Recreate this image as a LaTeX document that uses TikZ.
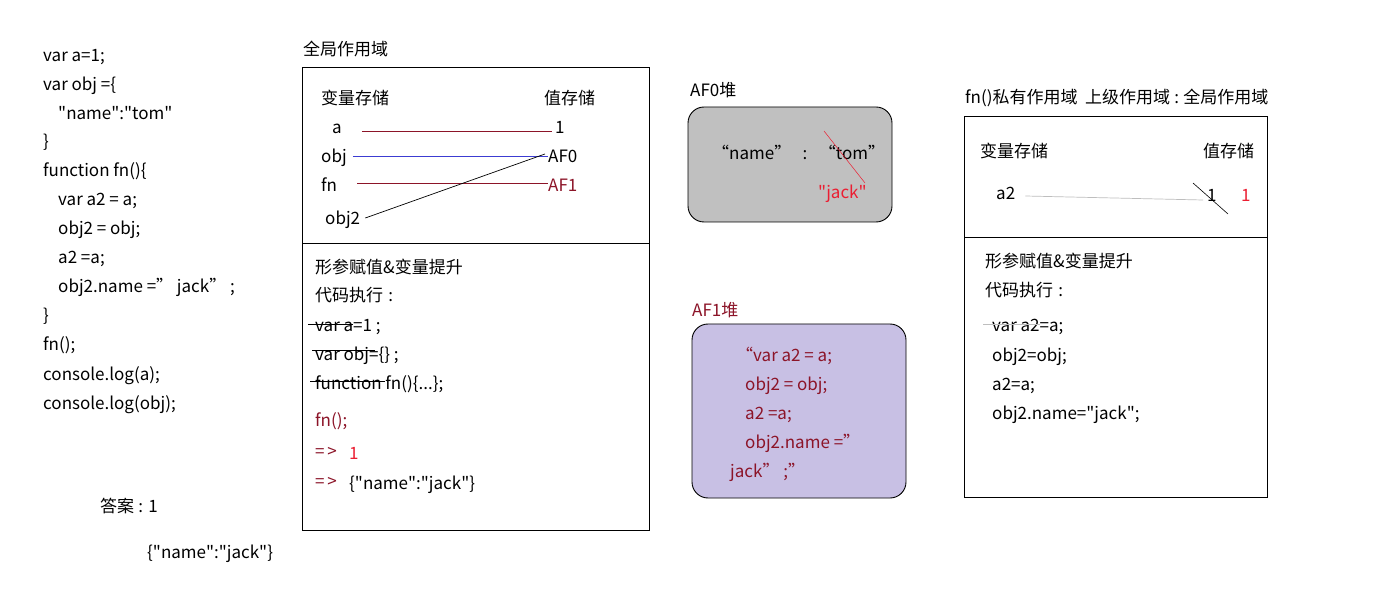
\documentclass[tikz,border=0pt]{standalone}
\usepackage{fontspec}
\setmainfont{Noto Sans CJK SC}[Ligatures=TeXOff]
\definecolor{maroon}{RGB}{140,20,40}
\definecolor{redtxt}{RGB}{235,30,50}
\definecolor{heapgray}{RGB}{192,192,192}
\definecolor{lav}{RGB}{200,192,228}
\definecolor{blueline}{RGB}{60,60,210}
\definecolor{lgray}{RGB}{190,190,190}
\begin{document}
\begin{tikzpicture}[x=1pt,y=-1pt,
  t/.style={anchor=west,inner sep=0pt,yshift=-2pt,font=\fontsize{17}{20}\selectfont,text height=12pt,text depth=4pt},
  frame/.style={draw=black,line width=0.9pt},
  thin/.style={line width=0.7pt}]
\useasboundingbox[fill=white] (0,0) rectangle (1386,601);

% ---- left code ----
\node[t] (c1) at (43,56) {var a=1;};
\node[t] (c2) at (43,85) {var obj =\{};
\node[t] (c3) at (58,114) {"name":"tom"};
\node[t] (c4) at (43,142) {\}};
\node[t] (c5) at (43,171) {function fn()\{};
\node[t] (c6) at (58,200) {var a2 = a;};
\node[t] (c7) at (58,229) {obj2 = obj;};
\node[t] (c8) at (58,258) {a2 =a;};
\node[t] (c9) at (58,287) {obj2.name =”\ jack”\ ;};
\node[t] (c10) at (43,316) {\}};
\node[t] (c11) at (43,345) {fn();};
\node[t] (c12) at (43,374) {console.log(a);};
\node[t] (c13) at (43,403) {console.log(obj);};
\node[t] (ans1) at (100,506) {答案\hspace{0.25em}:\hspace{0.3em}1};
\node[t] (ans2) at (147,552) {\{"name":"jack"\}};

% ---- global scope ----
\node[t] (gtitle) at (303,50) {全局作用域};
\draw[frame] (302,67) rectangle (649,530);
\draw[frame] (302,243) -- (649,243);
\node[t] (gvar) at (321,99) {变量存储};
\node[t] (gval) at (544,99) {值存储};
\node[t] (ga) at (332,128) {a};
\node[t] (g1) at (555,128) {1};
\node[t] (gobj) at (321,157) {obj};
\node[t] (gaf0) at (548,157) {AF0};
\node[t] (gfn) at (321,186) {fn};
\node[t,text=maroon] (gaf1) at (548,186) {AF1};
\node[t] (gobj2) at (325,219) {obj2};
\draw[thin,maroon] ([xshift=20pt,yshift=-1pt]ga.east) -- ([xshift=-3pt,yshift=-1pt]g1.west);
\draw[thin,blueline] ([xshift=6pt,yshift=3pt]gobj.east) -- ([yshift=3pt]gaf0.west);
\draw[thin,maroon] ([xshift=20pt,yshift=5pt]gfn.east) -- ([yshift=5pt]gaf1.west);
\draw[thin,black] ([xshift=5pt,yshift=3pt]gobj2.east) -- ([xshift=-3pt,yshift=5pt]gaf0.west);

\node[t] (gform) at (315,268) {形参赋值\&变量提升};
\node[t] (gexec) at (315,296) {代码执行\hspace{0.3em}:};
\node[t] (gl1) at (315,325) {var a=1 ;};
\node[t] (gl2) at (315,354) {var obj=\{\} ;};
\node[t] (gl3) at (315,383) {function fn()\{...\};};
\draw[thin] ([xshift=-7pt,yshift=3pt]gl1.west) -- ++(45,0);
\draw[thin] ([xshift=-3pt,yshift=6pt]gl2.west) -- ++(63,0);
\draw[thin] ([xshift=-5pt,yshift=4pt]gl3.west) -- ++(75,0);
\node[t,text=maroon] (gfncall) at (315,420) {fn();};
\node[t,text=maroon] (garr1) at (315,451) {=\,>};
\node[t,text=redtxt] (gres1) at (349,453) {1};
\node[t,text=maroon] (garr2) at (315,481) {=\,>};
\node[t] (gres2) at (349,483) {\{"name":"jack"\}};

% ---- AF0 heap ----
\node[t] (h0title) at (690,91) {AF0堆};
\draw[draw=black,line width=0.9pt,fill=heapgray,rounded corners=16pt] (688,107) rectangle (892,222);
\node[t] (h0txt) at (712,154) {“name”\ \ \ :\ \ \ “tom”};
\node[t,text=redtxt] (h0jack) at (818,193) {"jack"};
\coordinate (h0s) at (824,131);
\coordinate (h0e) at (865,183);
\draw[line width=0.5pt,redtxt] (h0s) -- (h0e);

% ---- AF1 heap ----
\node[t,text=maroon] (h1title) at (692,311) {AF1堆};
\draw[draw=black,line width=0.9pt,fill=lav,rounded corners=16pt] (692,324) rectangle (906,498);
\node[t,text=maroon] (h1a) at (736,355) {“var a2 = a;};
\node[t,text=maroon] (h1b) at (745,384) {obj2 = obj;};
\node[t,text=maroon] (h1c) at (745,413) {a2 =a;};
\node[t,text=maroon] (h1d) at (745,442) {obj2.name =”};
\node[t,text=maroon] (h1e) at (730,471) {jack”\ ;”};

% ---- fn scope ----
\node[t] (ftitle) at (965,98) {fn()私有作用域\ \ 上级作用域\hspace{0.25em}:\hspace{0.25em}全局作用域};
\draw[frame] (964,116) rectangle (1267,497);
\draw[frame] (964,237) -- (1267,237);
\node[t] (fvar) at (980,152) {变量存储};
\node[t] (fval) at (1203,152) {值存储};
\node[t] (fa2) at (996,194) {a2};
\node[t] (f1) at (1207,196) {1};
\node[t,text=redtxt] (f1r) at (1241,196) {1};
\draw[thin,lgray] ([xshift=10pt,yshift=0pt]fa2.east) -- ([xshift=-4pt,yshift=-2pt]f1.west);
\coordinate (fs) at (1193,183);
\coordinate (fe) at (1228,214);
\draw[line width=0.6pt] (fs) -- (fe);
\node[t] (fform) at (985,262) {形参赋值\&变量提升};
\node[t] (fexec) at (985,291) {代码执行\hspace{0.3em}:};
\node[t] (fl1) at (992,326) {var a2=a;};
\node[t] (fl2) at (992,355) {obj2=obj;};
\node[t] (fl3) at (992,384) {a2=a;};
\node[t] (fl4) at (992,413) {obj2.name="jack";};
\draw[thin,lgray] ([xshift=-9pt,yshift=4pt]fl1.west) -- ++(57,0);
\end{tikzpicture}
\end{document}
